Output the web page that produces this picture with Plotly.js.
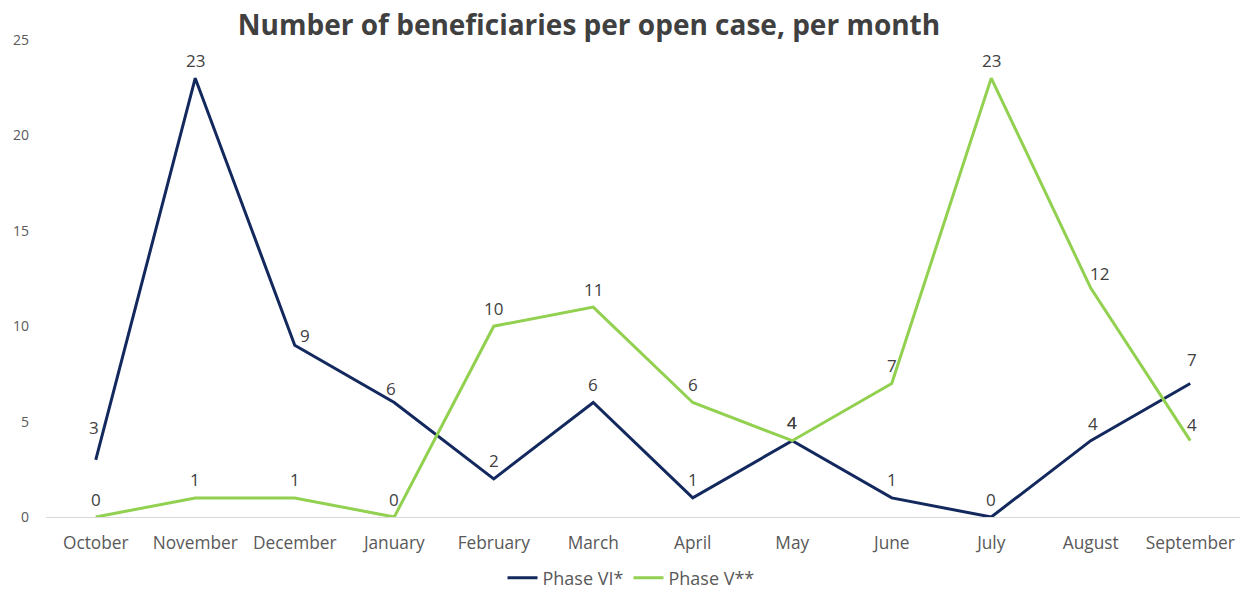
<!DOCTYPE html>
<html>
<head>
<meta charset="utf-8">
<script src="https://cdn.plot.ly/plotly-3.0.1.min.js"></script>
<style>html,body{margin:0;padding:0;background:#fff;}#chart{width:1247px;height:590px;}</style>
</head>
<body>
<div id="chart"></div>
<script>
const months = ["October","November","December","January","February","March","April","May","June","July","August","September"];
const phaseVI = [3,23,9,6,2,6,1,4,1,0,4,7];
const phaseV = [0,1,1,0,10,11,6,4,7,23,12,4];
const seriesNames = ["Phase VI*","Phase V**"];
const yTicks = [0,5,10,15,20,25];

const FONT = "Open Sans, sans-serif";
const colors = ["#13295e", "#92d050"];
const seriesValues = [phaseVI, phaseV];

const traces = seriesValues.map((vals, s) => ({
  x: months, y: vals, name: seriesNames[s], type: "scatter", mode: "lines",
  line: {color: colors[s], width: 3}, cliponaxis: false
}));

// label placement nudges (style only): "series-monthIndex" -> [dx, dy] in px (negative dy = further up)
const nudges = {"0-0": [-2, -14], "0-2": [10, 8], "0-3": [-3, 4], "0-11": [2, -6], "1-10": [9, 3], "1-11": [2, 2], "0-10": [2, 1]};

const annotations = [];
seriesValues.forEach((vals, s) => {
  vals.forEach((v, i) => {
    const n = nudges[s + "-" + i] || [0, 0];
    annotations.push({
      x: months[i], y: v, xref: "x", yref: "y", text: String(v), showarrow: false,
      xanchor: "center", yanchor: "middle", xshift: n[0], yshift: 18 - n[1],
      font: {family: FONT, size: 17, color: "#404040"}
    });
  });
});

const layout = {
  width: 1247, height: 590,
  margin: {l: 46, r: 7, t: 40, b: 73, autoexpand: false},
  paper_bgcolor: "#fff", plot_bgcolor: "#fff",
  title: {text: "<b>Number of beneficiaries per open case, per month</b>",
          font: {family: FONT, size: 28, color: "#404040"},
          x: 589 / 1247, xanchor: "center", xref: "container",
          y: 1 - 25 / 590, yanchor: "middle", yref: "container"},
  xaxis: {type: "category", range: [-0.5, 11.5], showgrid: false, zeroline: false,
          showline: true, linecolor: "#d9d9d9", linewidth: 1, ticks: "",
          ticklabelstandoff: 10,
          tickfont: {family: FONT, size: 17.3, color: "#595959"}},
  yaxis: {range: [0, 25], tickvals: yTicks, showgrid: false, zeroline: false,
          showline: false, ticks: "", ticklabelstandoff: 16,
          tickfont: {family: FONT, size: 14, color: "#595959"}},
  showlegend: true,
  legend: {orientation: "h", x: 631 / 1247, xref: "container", xanchor: "center",
           y: 12 / 590, yref: "container", yanchor: "middle", itemwidth: 30,
           font: {family: FONT, size: 18, color: "#595959"}},
  annotations: annotations
};
Plotly.newPlot("chart", traces, layout, {displayModeBar: false, staticPlot: true});
</script>
</body>
</html>
